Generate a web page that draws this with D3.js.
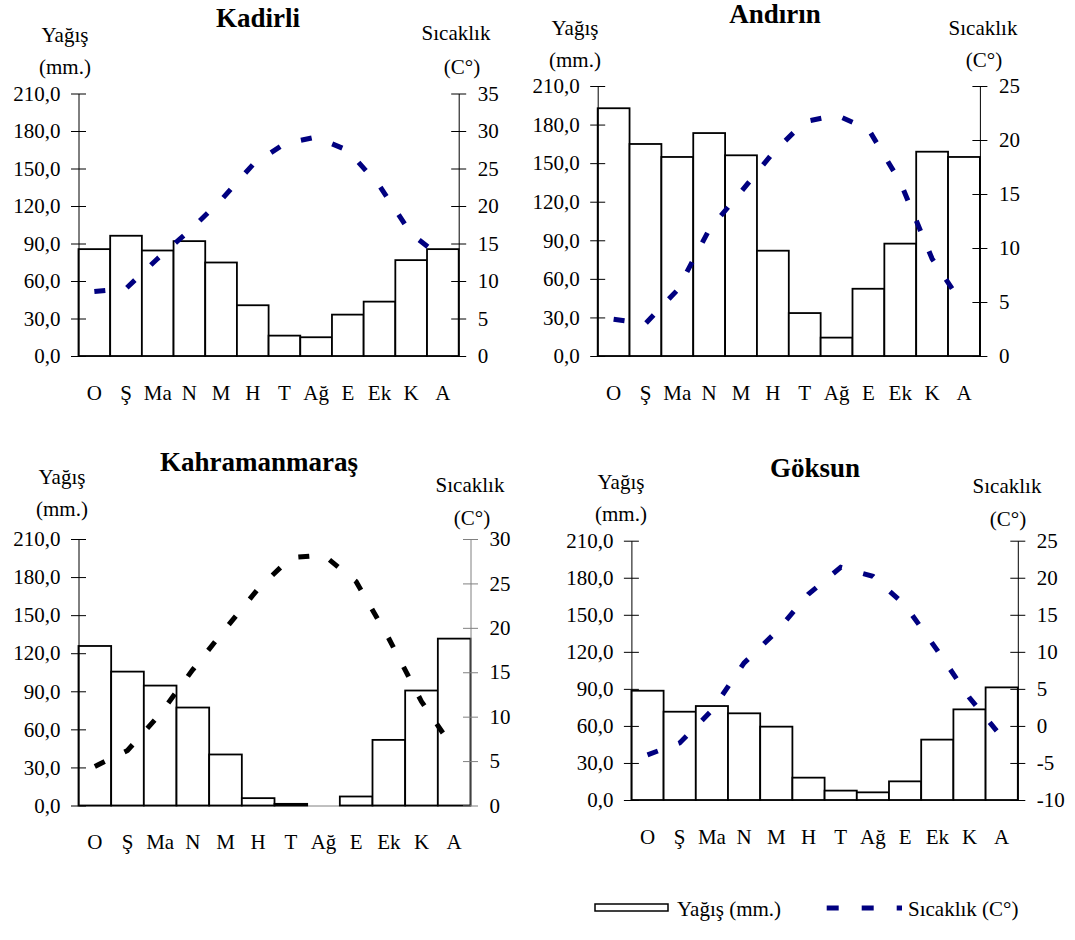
<!DOCTYPE html>
<html>
<head>
<meta charset="utf-8">
<script src="https://cdn.jsdelivr.net/npm/d3@7"></script>
<style>
  html, body { margin: 0; padding: 0; background: #fff; }
  svg { display: block; }
  svg text { font-family: "Liberation Serif", Tinos, "Times New Roman", Times, "DejaVu Serif", serif !important; fill: #000; }
</style>
</head>
<body>
<svg id="chart" width="1075" height="940"></svg>
<script>
// ---------------- DATA ----------------
const months = ["O", "Ş", "Ma", "N", "M", "H", "T", "Ağ", "E", "Ek", "K", "A"];
const rainTicks = [0, 30, 60, 90, 120, 150, 180, 210];

const kadirliRain = [85.5, 96.2, 84.4, 91.9, 74.8, 40.6, 16.3, 15.0, 33.1, 43.5, 76.7, 85.5];
const kadirliTemp = [8.6, 9.0, 13.0, 16.7, 20.8, 25.5, 28.3, 29.2, 27.4, 22.7, 16.3, 13.0];
const kadirliTempTicks = [0, 5, 10, 15, 20, 25, 30, 35];

const andirinRain = [192.7, 164.9, 154.8, 173.4, 156.1, 81.9, 33.4, 14.3, 52.3, 87.4, 158.9, 154.8];
const andirinTemp = [3.4, 3.0, 6.1, 11.7, 15.2, 18.8, 21.7, 22.3, 21.0, 16.1, 9.0, 4.6];
const andirinTempTicks = [0, 5, 10, 15, 20, 25];

const kmarasRain = [125.7, 105.5, 94.5, 77.2, 40.2, 5.8, 1.3, 0, 7.1, 51.7, 90.6, 131.5];
const kmarasTemp = [4.4, 6.2, 10.3, 15.3, 19.9, 24.4, 27.9, 28.2, 25.2, 18.8, 11.7, 6.3];
const kmarasTempTicks = [0, 5, 10, 15, 20, 25, 30];

const goksunRain = [88.5, 71.5, 76.1, 70.2, 59.4, 18.1, 7.6, 6.2, 15.1, 48.9, 73.4, 91.2];
const goksunTemp = [-3.9, -2.3, 2.1, 8.5, 12.7, 17.8, 21.4, 20.2, 16.3, 10.2, 3.8, -1.5];
const goksunTempTicks = [-10, -5, 0, 5, 10, 15, 20, 25];

const titles = ["Kadirli", "Andırın", "Kahramanmaraş", "Göksun"];
const legendLabels = ["Yağış (mm.)", "Sıcaklık (C°)"];

// ---------------- LAYOUT ----------------
const FS = 21;
const FONT = '"Liberation Serif", Tinos, "Times New Roman", Times, "DejaVu Serif", serif';
const panels = [
  { title: titles[0], rain: kadirliRain, temp: kadirliTemp, tTicks: kadirliTempTicks, color: "#000080", rightAxis: "#000",
    x0: 78.5, x1: 458.7, yt: 93.5, yb: 356,
    titleX: 258, titleY: 27, yagX: 65, yagY: 42, mmY: 74, sicX: 456, sicY: 40, cX: 462, cY: 74 },
  { title: titles[1], rain: andirinRain, temp: andirinTemp, tTicks: andirinTempTicks, color: "#000080", rightAxis: "#000",
    x0: 597.7, x1: 979.9, yt: 86, yb: 356,
    titleX: 775, titleY: 23, yagX: 575, yagY: 35, mmY: 67, sicX: 983, sicY: 35, cX: 984, cY: 67 },
  { title: titles[2], rain: kmarasRain, temp: kmarasTemp, tTicks: kmarasTempTicks, color: "#000", rightAxis: "#808080",
    x0: 78.5, x1: 470.5, yt: 539, yb: 805.5,
    titleX: 259, titleY: 471, yagX: 62, yagY: 484, mmY: 516, sicX: 470, sicY: 492, cX: 472, cY: 525 },
  { title: titles[3], rain: goksunRain, temp: goksunTemp, tTicks: goksunTempTicks, color: "#000080", rightAxis: "#000",
    x0: 631.4, x1: 1017.8, yt: 540.7, yb: 800,
    titleX: 815, titleY: 477, yagX: 621, yagY: 489, mmY: 521, sicX: 1007, sicY: 493, cX: 1008, cY: 526 }
];

const svg = d3.select("#chart");

function styleText(sel) {
  sel.attr("font-family", FONT).style("font-family", FONT).style("font-size", FS + "px").attr("fill", "#000");
}

function drawPanel(p) {
  const g = svg.append("g");
  const x = d3.scaleBand().domain(months).range([p.x0, p.x1]).padding(0);
  const y = d3.scaleLinear().domain([0, 210]).range([p.yb, p.yt]);
  const yT = d3.scaleLinear().domain([p.tTicks[0], p.tTicks[p.tTicks.length - 1]]).range([p.yb, p.yt]);

  // bottom axis with month labels
  const xa = g.append("g").attr("transform", `translate(0,${p.yb})`)
    .call(d3.axisBottom(x).tickSizeInner(0).tickSizeOuter(0).tickPadding(29));
  xa.attr("font-family", FONT);
  xa.select(".domain").attr("stroke", "#808080").attr("stroke-width", 1);
  styleText(xa.selectAll("text"));

  // bars
  const data = p.rain.map((v, i) => ({ m: months[i], v }));
  g.append("g").selectAll("rect").data(data.filter(d => d.v > 0)).join("rect")
    .attr("x", d => x(d.m))
    .attr("width", x.bandwidth())
    .attr("y", d => y(d.v))
    .attr("height", d => y(0) - y(d.v))
    .attr("fill", "#fff")
    .attr("stroke", "#000")
    .attr("stroke-width", 1.8);

  // left axis
  const la = g.append("g").attr("transform", `translate(${p.x0},0)`)
    .call(d3.axisLeft(y).tickValues(rainTicks).tickSizeInner(8).tickSizeOuter(0).tickPadding(10)
      .tickFormat(d => d.toFixed(1).replace(".", ",")));
  la.attr("font-family", FONT);
  la.select(".domain").attr("stroke", "#000");
  la.selectAll(".tick line").attr("x1", 7.5).attr("x2", -7.5).attr("stroke", "#000");
  styleText(la.selectAll("text"));

  // right axis
  const ra = g.append("g").attr("transform", `translate(${p.x1},0)`)
    .call(d3.axisRight(yT).tickValues(p.tTicks).tickSizeInner(8).tickSizeOuter(0).tickPadding(11)
      .tickFormat(d => String(d)));
  ra.attr("font-family", FONT);
  ra.select(".domain").attr("stroke", p.rightAxis);
  ra.selectAll(".tick line").attr("x1", -7.5).attr("x2", 7.5).attr("stroke", p.rightAxis);
  styleText(ra.selectAll("text"));

  // temperature line
  const tdata = p.temp.map((v, i) => ({ m: months[i], v }));
  g.append("path").datum(tdata)
    .attr("fill", "none")
    .attr("stroke", p.color)
    .attr("stroke-width", 5)
    .attr("stroke-dasharray", "11,22")
    .attr("d", d3.line().x(d => x(d.m) + x.bandwidth() / 2).y(d => yT(d.v)));

  // titles
  g.append("text").attr("x", p.titleX).attr("y", p.titleY).attr("text-anchor", "middle")
    .call(styleText).style("font-size", "27px").style("font-weight", "bold").text(p.title);
  g.append("text").attr("x", p.yagX).attr("y", p.yagY).attr("text-anchor", "middle").call(styleText).text("Yağış");
  g.append("text").attr("x", p.yagX).attr("y", p.mmY).attr("text-anchor", "middle").call(styleText).text("(mm.)");
  g.append("text").attr("x", p.sicX).attr("y", p.sicY).attr("text-anchor", "middle").call(styleText).text("Sıcaklık");
  g.append("text").attr("x", p.cX).attr("y", p.cY).attr("text-anchor", "middle").call(styleText).text("(C°)");
}

panels.forEach(drawPanel);

// legend
const lg = svg.append("g");
lg.append("rect").attr("x", 595).attr("y", 904).attr("width", 73).attr("height", 7)
  .attr("fill", "#fff").attr("stroke", "#000").attr("stroke-width", 1.5);
lg.append("text").attr("x", 677).attr("y", 916).call(styleText).text(legendLabels[0]);
lg.append("line").attr("x1", 826.7).attr("x2", 902).attr("y1", 908).attr("y2", 908)
  .attr("stroke", "#000080").attr("stroke-width", 5).attr("stroke-dasharray", "12,23");
lg.append("text").attr("x", 908).attr("y", 916).call(styleText).text(legendLabels[1]);
</script>
</body>
</html>
